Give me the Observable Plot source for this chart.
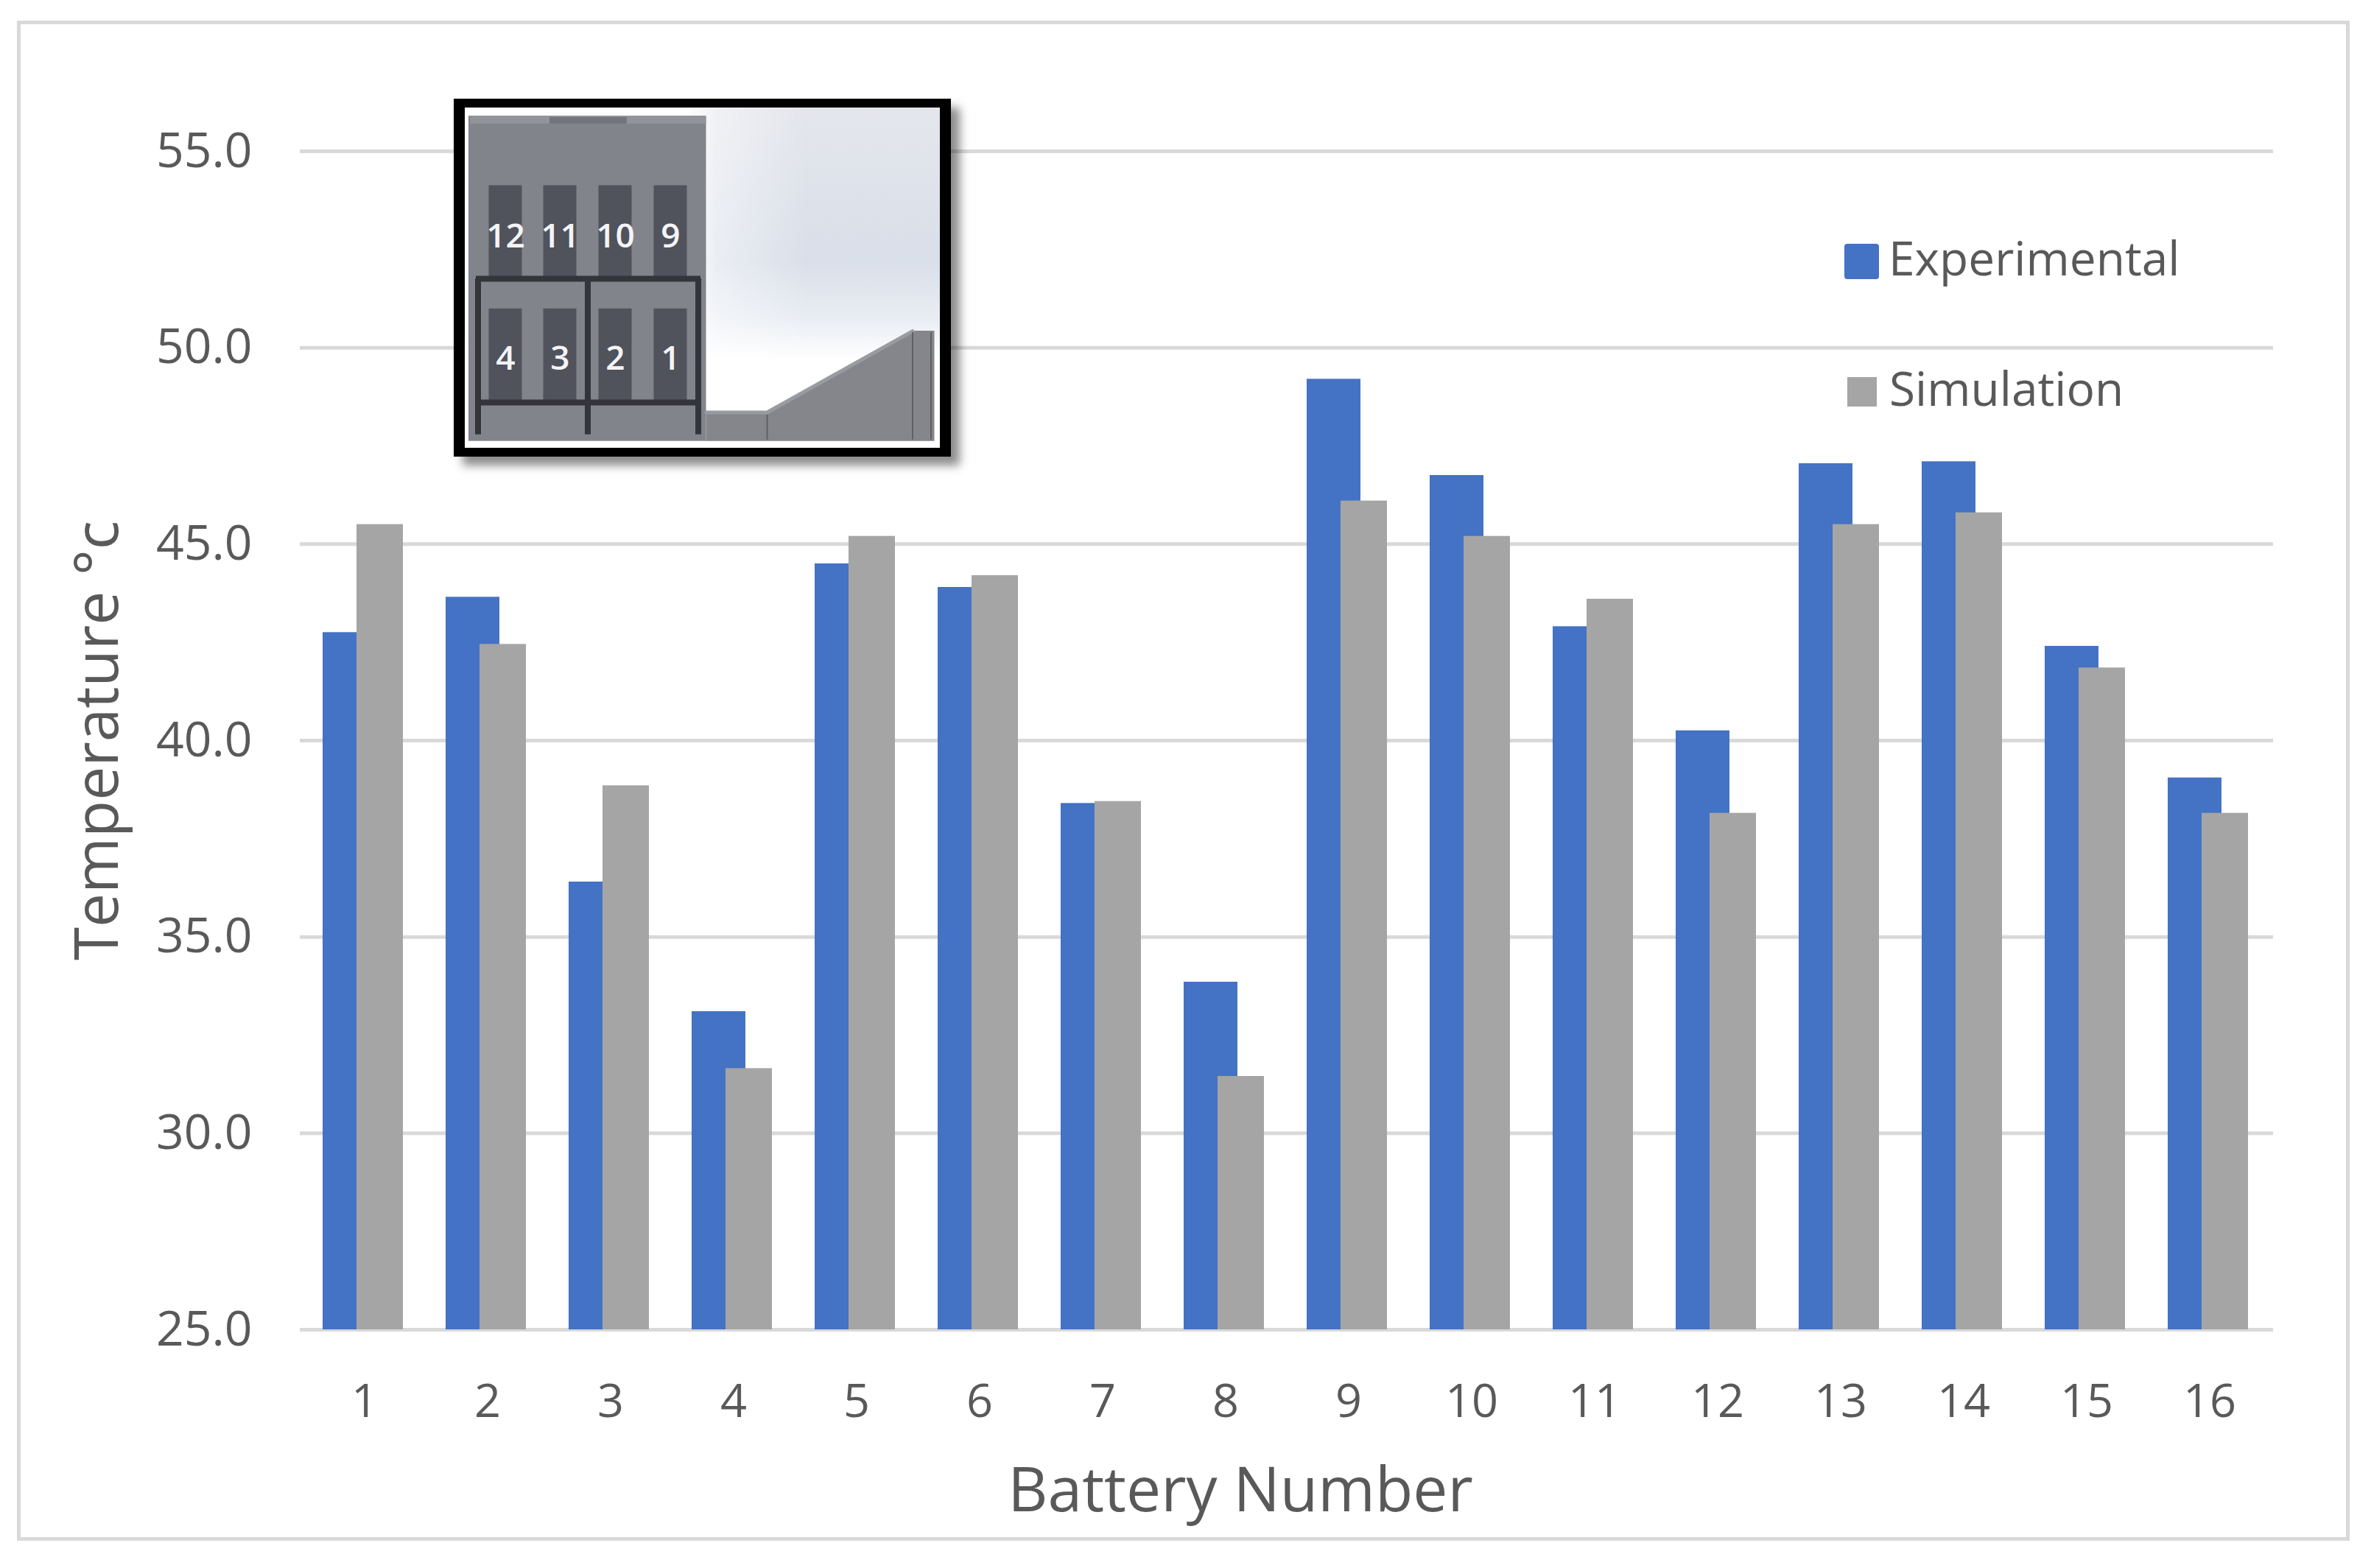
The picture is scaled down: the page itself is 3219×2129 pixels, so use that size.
<!DOCTYPE html>
<html>
<head>
<meta charset="utf-8">
<script src="https://cdn.jsdelivr.net/npm/d3@7"></script>
<script src="https://cdn.jsdelivr.net/npm/@observablehq/plot@0.6"></script>
<style>
  html, body { margin: 0; padding: 0; background: #fff; overflow: hidden; }
  body { width: 3219px; height: 2129px; position: relative; font-family: "Open Sans", sans-serif; }
  #frame { position: absolute; left: 23px; top: 28px; width: 3157px; height: 2054px; border: 5px solid #d9d9d9; box-sizing: content-box; pointer-events: none; }
  #chart { position: absolute; left: 0; top: 0; }
  #inset { position: absolute; left: 616px; top: 134px; width: 675px; height: 486px; background: #000; box-shadow: 12px 12px 12px rgba(0,0,0,.45); }
  #inset .bg { position: absolute; left: 15px; top: 12px; right: 15px; bottom: 12px;
    background:
      linear-gradient(90deg, rgba(255,255,255,.95) 47%, rgba(255,255,255,.45) 53%, rgba(255,255,255,0) 72%),
      linear-gradient(180deg, #e4e6ec 0%, #d9dfe9 45%, #e9edf3 62%, #ffffff 74%, #ffffff 100%); }
  #inset svg { position: absolute; left: 0; top: 0; background: transparent; }
  .leg { position: absolute; font-size: 64px; color: #595959; line-height: 1; white-space: nowrap; }
  .sw { position: absolute; }
</style>
</head>
<body>
<div id="chart"></div>
<div id="frame"></div>
<div id="inset"><div class="bg"></div></div>
<div class="sw" style="left:2504px;top:331px;width:47px;height:48px;background:#4472c4;border-radius:4px"></div>
<div class="leg" style="left:2564px;top:318px">Experimental</div>
<div class="sw" style="left:2508px;top:512px;width:40px;height:40px;background:#a5a5a5"></div>
<div class="leg" style="left:2565px;top:495px">Simulation</div>
<script>
const batteries = [1,2,3,4,5,6,7,8,9,10,11,12,13,14,15,16];
const experimental = [42.75,43.65,36.4,33.1,44.5,43.9,38.4,33.85,49.2,46.75,42.9,40.25,47.05,47.1,42.4,39.05];
const simulation = [45.5,42.45,38.85,31.65,45.2,44.2,38.45,31.45,46.1,45.2,43.6,38.15,45.5,45.8,41.85,38.15];
const yTicks = [25,30,35,40,45,50,55];
const xTitle = "Battery Number";
const yTitle = "Temperature °c";

const expRows = batteries.map((b,i) => ({b, v: experimental[i]}));
const simRows = batteries.map((b,i) => ({b, v: simulation[i]}));

const chart = Plot.plot({
  width: 3219, height: 2129,
  marginLeft: 407, marginRight: 133, marginTop: 205, marginBottom: 324,
  style: {fontFamily: '"Open Sans", sans-serif', background: "transparent"},
  x: {type: "band", domain: batteries, padding: 0},
  y: {domain: [25,55]},
  marks: [
    Plot.ruleY(yTicks, {stroke: "#d9d9d9", strokeWidth: 5}),
    Plot.barY(expRows, {x: "b", y1: () => 25, y2: "v", fill: "#4472c4", insetLeft: 27, insetRight: 67}),
    Plot.barY(simRows, {x: "b", y1: () => 25, y2: "v", fill: "#a5a5a5", insetLeft: 73, insetRight: 31}),
    Plot.axisY({ticks: yTicks, tickSize: 0, tickPadding: 65, tickFormat: d3.format(".1f"), label: null, fontSize: 66, fill: "#595959"}),
    Plot.axisX({tickSize: 0, tickPadding: 74, label: null, fontSize: 63, fill: "#595959"}),
    Plot.text([xTitle], {text: d => d, frameAnchor: "bottom", dx: -63, dy: 220, fontSize: 84, fill: "#595959", lineAnchor: "middle"}),
    Plot.text([yTitle], {text: d => d, frameAnchor: "left", textAnchor: "middle", rotate: -90, dx: -274, fontSize: 82, fill: "#595959"})
  ]
});
document.getElementById("chart").appendChild(chart);

// Inset schematic, expressed in its own local units
const slotLefts = [210,358,508,658];
const slotW = 90;
const topLabels = ["12","11","10","9"];
const lowLabels = ["4","3","2","1"];
const dark = "#50525c", rule = "#33353a", body = "#82848b";
const slots = [425,895].flatMap((t,r) => slotLefts.map(l => ({x1:l,x2:l+slotW,y1:t,y2:t+350})));
const labels = [
  ...slotLefts.map((l,i) => ({x:l+slotW/2,y:620,t:topLabels[i]})),
  ...slotLefts.map((l,i) => ({x:l+slotW/2,y:1085,t:lowLabels[i]}))
];
const rampX = [800,965,1360,1420];
const rampTop = [1290,1290,980,980];
const ramp = rampX.map((x,i) => ({x, y: rampTop[i], y0: 1400}));
const hRules = [{x1:175,x2:785,y:780},{x1:175,x2:785,y:1252}];
const vRules = [{x:180,y1:780,y2:1375},{x:478,y1:780,y2:1375},{x:778,y1:780,y2:1375}];
const thinV = [{x:965,y1:1300,y2:1395},{x:1360,y1:985,y2:1395},{x:1410,y1:985,y2:1395}];

const inset = Plot.plot({
  width: 675, height: 486,
  margin: 0,
  style: {fontFamily: '"Open Sans", sans-serif', background: "transparent"},
  x: {type: "linear", domain: [115,1465], range: [0,675], axis: null},
  y: {type: "linear", domain: [95,1460], range: [0,486], axis: null},
  marks: [
    Plot.rect([{x1:155,x2:800,y1:160,y2:1400}], {x1:"x1",x2:"x2",y1:"y1",y2:"y2",fill:body}),
    Plot.rect([{x1:160,x2:800,y1:160,y2:190}], {x1:"x1",x2:"x2",y1:"y1",y2:"y2",fill:"#92949a"}),
    Plot.rect([{x1:375,x2:585,y1:165,y2:190}], {x1:"x1",x2:"x2",y1:"y1",y2:"y2",fill:"#74757c"}),
    Plot.areaY(ramp, {x:"x", y1:"y0", y2:"y", fill:"#85868c", curve:"linear"}),
    Plot.line(ramp.slice(0,3), {x:"x", y:"y", stroke:"#9a9ba1", strokeWidth:5}),
    Plot.rect(slots, {x1:"x1",x2:"x2",y1:"y1",y2:"y2",fill:dark}),
    Plot.ruleY(hRules, {x1:"x1",x2:"x2",y:"y",stroke:rule,strokeWidth:8}),
    Plot.ruleX(vRules, {x:"x",y1:"y1",y2:"y2",stroke:rule,strokeWidth:8}),
    Plot.ruleX(thinV, {x:"x",y1:"y1",y2:"y2",stroke:"#5f6066",strokeWidth:2}),
    Plot.text(labels, {x:"x",y:"y",text:"t",fill:"#f4f4f6",fontSize:46,fontWeight:600})
  ]
});
document.getElementById("inset").appendChild(inset);
</script>
</body>
</html>
